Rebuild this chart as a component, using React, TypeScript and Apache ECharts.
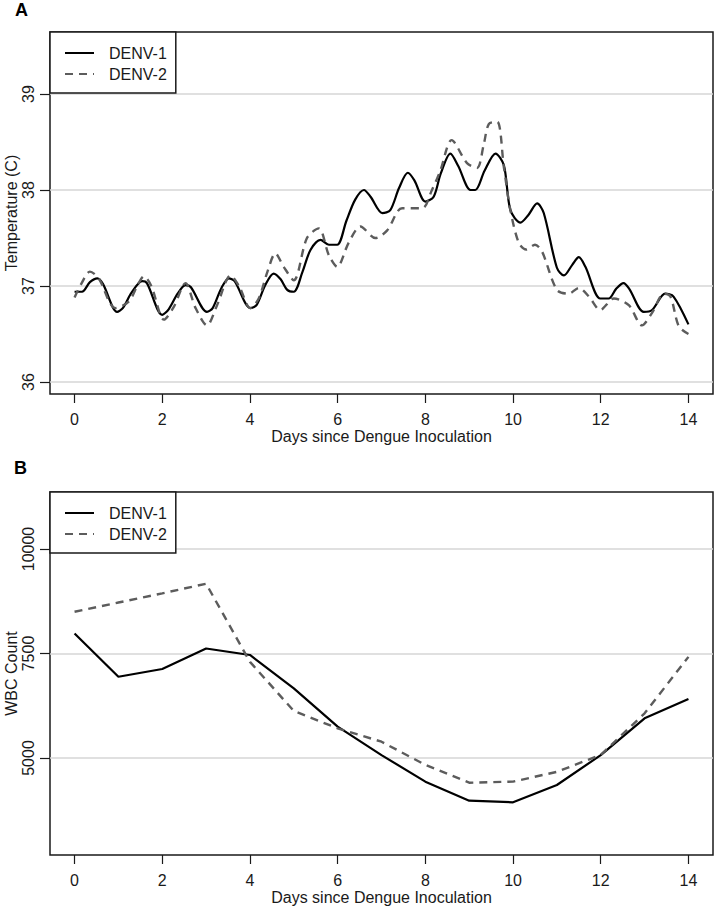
import React, { useEffect, useRef } from "react";
import * as echarts from "echarts";

// ---- Panel A: body temperature (°C) by day since inoculation ----
const tempDenv1: [number, number][] = [
  [0, 36.94], [0.17, 36.94], [0.35, 37.04], [0.52, 37.08], [0.65, 37.02], [0.97, 36.73],
  [1.1, 36.77], [1.3, 36.93], [1.54, 37.05], [1.65, 37.03], [2.0, 36.7], [2.15, 36.76],
  [2.35, 36.92], [2.53, 37.01], [2.65, 36.99], [3.02, 36.73], [3.15, 36.77], [3.35, 36.98],
  [3.52, 37.08], [3.65, 37.05], [4.01, 36.77], [4.15, 36.8], [4.35, 37.01], [4.54, 37.13],
  [4.7, 37.07], [4.85, 36.96], [5.0, 36.94], [5.2, 37.15], [5.38, 37.375], [5.61, 37.48],
  [5.8, 37.43], [5.99, 37.43], [6.2, 37.68], [6.4, 37.9], [6.6, 38.0], [6.75, 37.93],
  [7.02, 37.76], [7.2, 37.79], [7.4, 38.02], [7.6, 38.18], [7.75, 38.1], [8.0, 37.88],
  [8.19, 37.93], [8.35, 38.17], [8.57, 38.38], [8.75, 38.25], [9.03, 38.0], [9.14, 38.0],
  [9.35, 38.2], [9.6, 38.38], [9.79, 38.26], [9.94, 37.79], [10.17, 37.66], [10.35, 37.74],
  [10.55, 37.86], [10.7, 37.76], [11.0, 37.19], [11.16, 37.11], [11.35, 37.22], [11.5, 37.3],
  [11.65, 37.2], [11.99, 36.87], [12.18, 36.87], [12.35, 36.97], [12.52, 37.03], [12.65, 36.97],
  [12.98, 36.73], [13.17, 36.75], [13.47, 36.92], [13.66, 36.89], [14.0, 36.6],
];

const tempDenv2: [number, number][] = [
  [0, 36.88], [0.15, 37.02], [0.35, 37.15], [0.55, 37.08], [0.93, 36.77], [1.24, 36.84],
  [1.45, 37.02], [1.58, 37.1], [1.75, 37.0], [2.04, 36.65], [2.26, 36.78], [2.53, 37.03],
  [2.76, 36.77], [3.02, 36.59], [3.25, 36.8], [3.56, 37.11], [3.75, 37.0], [4.01, 36.77],
  [4.2, 36.87], [4.4, 37.15], [4.58, 37.34], [4.77, 37.2], [5.0, 37.06], [5.3, 37.5],
  [5.57, 37.6], [5.8, 37.32], [5.99, 37.2], [6.25, 37.45], [6.52, 37.62], [6.86, 37.5],
  [7.13, 37.58], [7.47, 37.81], [7.93, 37.81], [8.15, 38.0], [8.34, 38.2], [8.6, 38.52],
  [8.95, 38.28], [9.18, 38.23], [9.33, 38.47], [9.45, 38.69], [9.64, 38.71], [9.79, 38.24],
  [9.94, 37.79], [10.13, 37.45], [10.3, 37.38], [10.5, 37.43], [10.66, 37.36], [11.0, 36.96],
  [11.27, 36.92], [11.5, 36.98], [11.73, 36.89], [11.99, 36.75], [12.3, 36.87], [12.64, 36.8],
  [12.94, 36.59], [13.17, 36.72], [13.44, 36.92], [13.59, 36.89], [13.78, 36.58], [14.0, 36.5],
];

// ---- Panel B: WBC count by day ----
const wbcDays = [0, 1, 2, 3, 4, 5, 6, 7, 8, 9, 10, 11, 12, 13, 14];
const wbcDenv1 = [7980, 6945, 7130, 7620, 7465, 6665, 5750, 5070, 4435, 3980, 3940, 4355, 5070, 5950, 6410];
const wbcDenv2 = [8500, 8720, 8940, 9170, 7300, 6125, 5710, 5390, 4835, 4410, 4435, 4670, 5075, 6070, 7420];

const dayTicks = [0, 2, 4, 6, 8, 10, 12, 14];
const tempTicks = [36, 37, 38, 39];
const wbcTicks = [5000, 7500, 10000];
const seriesNames = ["DENV-1", "DENV-2"];

const FONT = "'Liberation Sans', Arial, sans-serif";
const FS = 16;
const INK = "#1a1a1a";
const DASH_COLOR = "#5c5c5c";

function xAxisFor(gridIndex: number) {
  return {
    gridIndex,
    type: "value" as const,
    min: -0.56,
    max: 14.56,
    name: "Days since Dengue Inoculation",
    nameLocation: "middle" as const,
    nameGap: 34,
    nameMoveOverlap: false,
    nameTextStyle: { fontFamily: FONT, fontSize: FS, color: INK },
    axisLine: { show: false, onZero: false },
    axisTick: { show: true, length: 9, customValues: dayTicks, lineStyle: { color: INK, width: 1.2 } },
    axisLabel: { customValues: dayTicks, margin: 17, fontFamily: FONT, fontSize: FS, color: INK },
    splitLine: { show: false },
  };
}

function yAxisFor(gridIndex: number, min: number, max: number, ticks: number[], name: string) {
  return {
    gridIndex,
    type: "value" as const,
    min,
    max,
    name,
    nameLocation: "middle" as const,
    nameGap: 31,
    nameRotate: 90,
    nameMoveOverlap: false,
    nameTextStyle: { fontFamily: FONT, fontSize: FS, color: INK },
    axisLine: { show: false, onZero: false },
    axisTick: { show: true, length: 10, customValues: ticks, lineStyle: { color: INK, width: 1.2 } },
    axisLabel: {
      customValues: ticks,
      rotate: 90,
      margin: 14,
      fontFamily: FONT,
      fontSize: FS,
      color: INK,
      formatter: (v: number) => String(v),
    },
    splitLine: { show: true, lineStyle: { color: "#d6d6d6", width: 1.5 } },
  };
}

function legendFor(top: number) {
  return {
    data: seriesNames,
    left: 50,
    top,
    orient: "vertical" as const,
    selectedMode: false,
    backgroundColor: "#fff",
    borderColor: INK,
    borderWidth: 1.5,
    borderRadius: 0,
    padding: [13, 9, 11, 14],
    itemWidth: 29,
    itemHeight: 14,
    itemGap: 5,
    itemStyle: { opacity: 0 },
    textStyle: { fontFamily: FONT, fontSize: FS, color: INK, padding: [0, 0, 0, 10] },
  };
}

const solid = { color: "#000", width: 2.2, type: "solid" as const };
const dashed = { color: DASH_COLOR, width: 2.4, type: [8, 6] as number[] };

export default function App() {
  const ref = useRef<HTMLDivElement>(null);

  useEffect(() => {
    if (!ref.current) return;
    const chart = echarts.init(ref.current, null, { renderer: "svg" });
    const option: any = {
      animation: false,
      backgroundColor: "#fff",
      title: [
        { text: "A", left: 15, top: 1, padding: 0, textStyle: { fontFamily: FONT, fontSize: 18, fontWeight: "bold", color: "#000" } },
        { text: "B", left: 14, top: 459, padding: 0, textStyle: { fontFamily: FONT, fontSize: 18, fontWeight: "bold", color: "#000" } },
      ],
      legend: [legendFor(32), legendFor(492)],
      grid: [
        { left: 50, top: 32, width: 663, height: 362, show: true, outerBoundsMode: "none", containLabel: false, borderColor: INK, borderWidth: 1.5, backgroundColor: "transparent" },
        { left: 50, top: 492, width: 663, height: 363, show: true, outerBoundsMode: "none", containLabel: false, borderColor: INK, borderWidth: 1.5, backgroundColor: "transparent" },
      ],
      xAxis: [xAxisFor(0), xAxisFor(1)],
      yAxis: [
        yAxisFor(0, 35.875, 39.646, tempTicks, "Temperature (C)"),
        yAxisFor(1, 2680, 11364, wbcTicks, "WBC Count"),
      ],
      series: [
        { name: "DENV-1", type: "line", xAxisIndex: 0, yAxisIndex: 0, data: tempDenv1, symbol: "none", smooth: 0.3, lineStyle: solid, itemStyle: { color: "#000" } },
        { name: "DENV-2", type: "line", xAxisIndex: 0, yAxisIndex: 0, data: tempDenv2, symbol: "none", smooth: 0.3, lineStyle: dashed, itemStyle: { color: DASH_COLOR } },
        { name: "DENV-1", type: "line", xAxisIndex: 1, yAxisIndex: 1, data: wbcDays.map((d, i) => [d, wbcDenv1[i]]), symbol: "none", lineStyle: solid, itemStyle: { color: "#000" } },
        { name: "DENV-2", type: "line", xAxisIndex: 1, yAxisIndex: 1, data: wbcDays.map((d, i) => [d, wbcDenv2[i]]), symbol: "none", lineStyle: dashed, itemStyle: { color: DASH_COLOR } },
      ],
    };
    chart.setOption(option);
    return () => chart.dispose();
  }, []);

  return (
    <div
      ref={ref}
      style={{ position: "absolute", left: 0, top: 0, width: 714, height: 906, background: "#fff" }}
    />
  );
}
